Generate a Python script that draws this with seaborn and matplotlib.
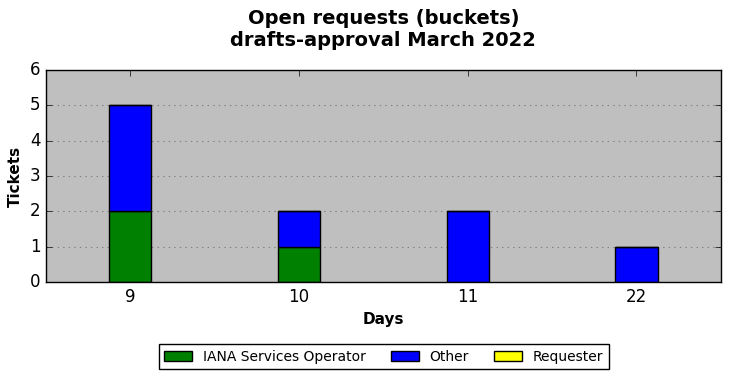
import seaborn as sns
import matplotlib.pyplot as plt
import numpy as np
import pandas as pd
plt.style.use('classic')

days = ['9', '10', '11', '22']
iana = [2, 1, 0, 0]
other = [3, 1, 2, 1]
requester = [0, 0, 0, 0]


def plot_buckets():
    df = pd.DataFrame({'day': days, 'iana': iana, 'other': other, 'requester': requester})
    fig, ax = plt.subplots(figsize=(7.31, 3.78), dpi=100)
    fig.subplots_adjust(left=0.063, right=0.986, top=0.815, bottom=0.254)
    ax.set_facecolor('#bfbfbf')

    bottom_other = df['iana']
    bottom_req = df['iana'] + df['other']
    sns.barplot(data=df, x='day', y='iana', order=days, color='green', saturation=1,
                width=0.25, edgecolor='black', linewidth=1, ax=ax, label='IANA Services Operator')
    sns.barplot(data=df, x='day', y='other', order=days, color='blue', saturation=1,
                width=0.25, edgecolor='black', linewidth=1, bottom=bottom_other, ax=ax, label='Other')
    sns.barplot(data=df, x='day', y='requester', order=days, color='yellow', saturation=1,
                width=0.25, edgecolor='black', linewidth=1, bottom=bottom_req, ax=ax, label='Requester')

    ax.set_xlim(-0.5, 3.5)
    ax.set_ylim(0, 6)
    ax.yaxis.grid(True, linestyle=':', color='#808080', linewidth=0.8)
    ax.xaxis.grid(False)
    ax.set_axisbelow(True)

    ax.set_xlabel('Days', fontweight='bold', fontsize=11)
    ax.set_ylabel('Tickets', fontweight='bold', fontsize=11)
    ax.set_title('Open requests (buckets)\ndrafts-approval March 2022', fontweight='bold', fontsize=14, y=1.078)
    ax.tick_params(labelsize=12)

    handles, labels = ax.get_legend_handles_labels()
    if ax.get_legend() is not None:
        ax.get_legend().remove()
    fig.legend(handles, labels, loc='lower center', ncol=3, fontsize=10,
               bbox_to_anchor=(0.525, 0.005), fancybox=False, handlelength=2.0, columnspacing=1.8)
    return fig


if __name__ == "__main__":
    fig = plot_buckets()
    fig.savefig('out.png', dpi=100)
